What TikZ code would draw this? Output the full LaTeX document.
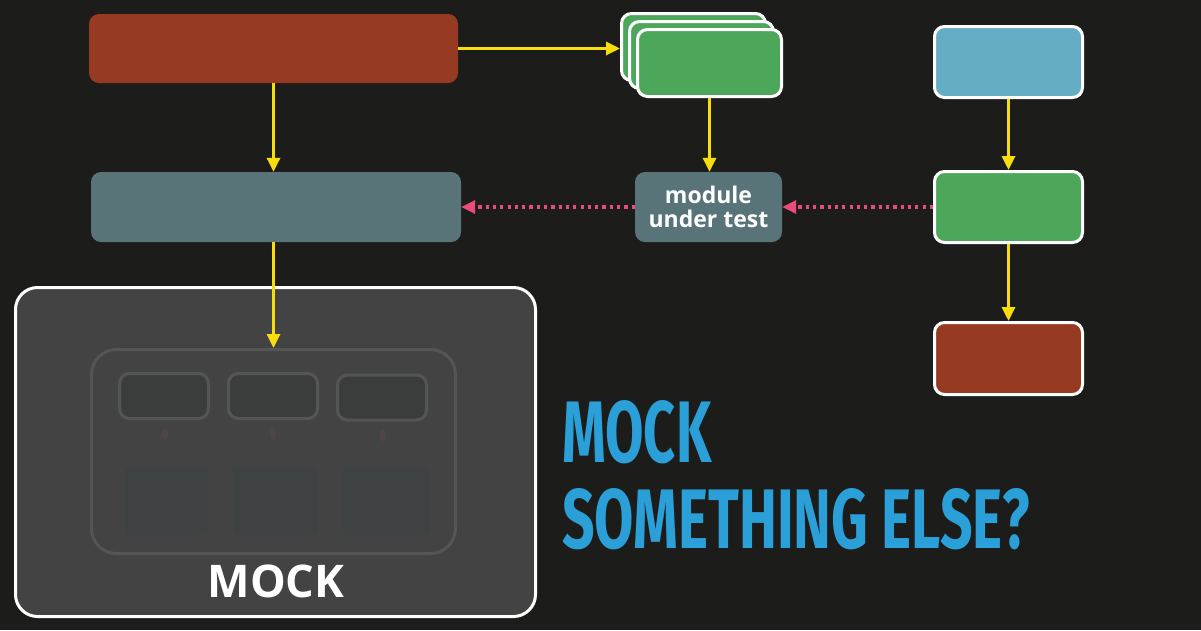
\documentclass[tikz,border=0pt]{standalone}
\usepackage{fontspec}
\setmainfont{Open Sans}
\newfontfamily\headfont{Fira Sans}
\usetikzlibrary{arrows.meta,calc}
\definecolor{bgc}{HTML}{1C1D1B}
\definecolor{redc}{HTML}{963A22}
\definecolor{tealc}{HTML}{587479}
\definecolor{greenc}{HTML}{4DA75A}
\definecolor{bluec}{HTML}{64ADC4}
\definecolor{yelc}{HTML}{F7DD0B}
\definecolor{pinkc}{HTML}{E94B7A}
\definecolor{mockc}{HTML}{434343}
\definecolor{innerc}{HTML}{555555}
\definecolor{smallc}{HTML}{3B3D3D}
\definecolor{faintc}{HTML}{3E4243}
\definecolor{faintred}{HTML}{514445}
\definecolor{headc}{HTML}{2A9FD8}
\tikzset{
  plainbox/.style={rectangle, rounded corners=10pt, inner sep=0pt},
  whitebox/.style={plainbox, draw=white, line width=3pt},
  yarrow/.style={draw=yelc, line width=3.2pt, -{Triangle[length=14pt,width=13pt]}},
  parrow/.style={draw=pinkc, line width=3.2pt, dash pattern=on 3.2pt off 4.1pt, -{Triangle[length=14pt,width=13pt]}},
}
\begin{document}
\begin{tikzpicture}[x=1pt,y=-1pt]
\fill[bgc] (0,0) rectangle (1201,630);
\useasboundingbox (0,0) rectangle (1201,630);

% left column
\node[plainbox, fill=redc, minimum width=369pt, minimum height=69pt] (red) at (273.5,48.5) {};
\node[plainbox, fill=tealc, minimum width=370pt, minimum height=70pt] (teal) at (276,207) {};

% mock container
\node[whitebox, fill=mockc, rounded corners=22pt, minimum width=520pt, minimum height=329pt] (mock) at (275.5,452) {};
\node[plainbox, draw=innerc, line width=3pt, rounded corners=25pt, minimum width=364pt, minimum height=204pt] (inner) at (273.5,451.5) {};
\node[plainbox, draw=innerc, fill=smallc, line width=3pt, minimum width=89pt, minimum height=45pt] (s1) at (164,396) {};
\node[plainbox, draw=innerc, fill=smallc, line width=3pt, minimum width=89pt, minimum height=45pt] (s2) at (273,396) {};
\node[plainbox, draw=innerc, fill=smallc, line width=3pt, minimum width=89pt, minimum height=45pt] (s3) at (382,397.5) {};
\node[rectangle, fill=faintc, rounded corners=4pt, minimum width=83pt, minimum height=67pt] (f1) at (166.5,501.5) {};
\node[rectangle, fill=faintc, rounded corners=4pt, minimum width=85pt, minimum height=67pt] (f2) at (275.5,501.5) {};
\node[rectangle, fill=faintc, rounded corners=4pt, minimum width=87pt, minimum height=67pt] (f3) at (386.5,501.5) {};
\fill[faintred] ($(s1.south)+(1,14)$) ellipse (3pt and 6pt);
\fill[faintred] ($(s2.south)+(0,14)$) ellipse (3pt and 6pt);
\fill[faintred] ($(s3.south)+(1,14)$) ellipse (3pt and 6pt);
\node[text=white, font=\fontsize{45}{45}\selectfont\bfseries, inner sep=0pt] (mocklabel) at (276,581) {MOCK};

% stack
\node[whitebox, fill=greenc, minimum width=144pt, minimum height=67pt] (stack3) at (693.5,47) {};
\node[whitebox, fill=greenc, minimum width=144pt, minimum height=67pt] (stack2) at (701.5,55) {};
\node[whitebox, fill=greenc, minimum width=144pt, minimum height=67pt] (stack1) at (709.5,63) {};

% module under test
\node[plainbox, fill=tealc, minimum width=147pt, minimum height=70pt, text=white, align=center, font=\fontsize{23}{24}\selectfont\bfseries] (mut) at (708.5,207) {module\\under test};

% right column
\node[whitebox, fill=bluec, minimum width=148pt, minimum height=71pt] (rblue) at (1008.5,62) {};
\node[whitebox, fill=greenc, minimum width=148pt, minimum height=71pt] (rgreen) at (1008.5,207) {};
\node[whitebox, fill=redc, minimum width=148pt, minimum height=72pt] (rred) at (1008.5,358.5) {};

% heading
\node[anchor=north west, inner sep=0pt, text=headc] (h1) at (562,400) {\resizebox{149pt}{62pt}{\headfont\bfseries MOCK}};
\node[anchor=north west, inner sep=0pt, text=headc] (h2) at (562,488) {\resizebox{468pt}{60pt}{\headfont\bfseries SOMETHING ELSE?}};

% connectors
\draw[yarrow] (red.east) -- (red.east -| stack3.west);
\draw[yarrow] (red.south) -- (red.south |- teal.north);
\draw[yarrow] (inner.north |- teal.south) -- (inner.north);
\draw[yarrow] (stack1.south) -- (stack1.south |- mut.north);
\draw[yarrow] (rblue.south) -- (rgreen.north);
\draw[yarrow] (rgreen.south) -- (rred.north);
\draw[parrow] (rgreen.west) -- (mut.east);
\draw[parrow] (mut.west) -- (teal.east);
\end{tikzpicture}
\end{document}
